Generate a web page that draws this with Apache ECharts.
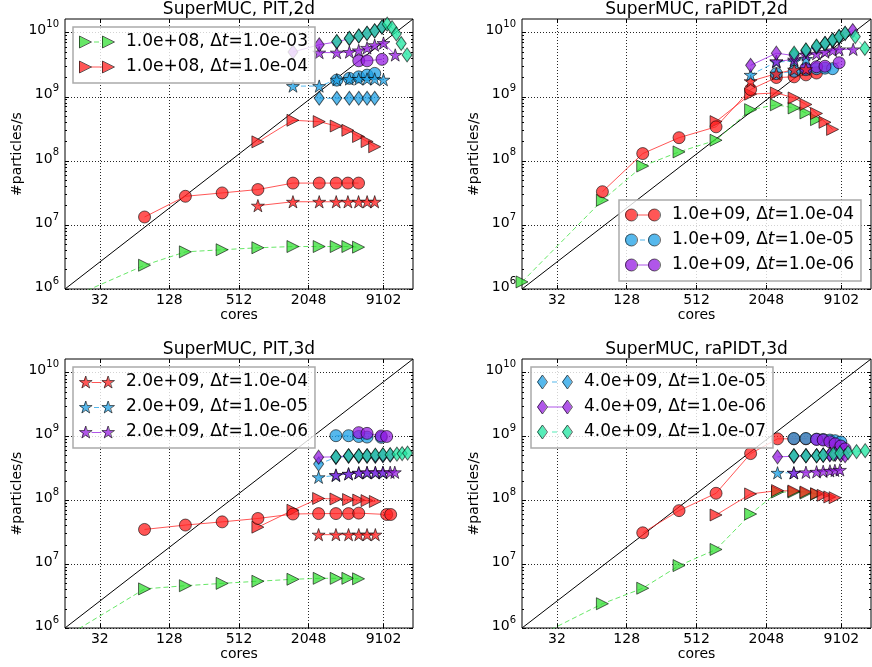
<!DOCTYPE html>
<html><head><meta charset="utf-8">
<script src="https://cdn.jsdelivr.net/npm/echarts@6/dist/echarts.min.js"></script>
<style>html,body{margin:0;padding:0;background:#fff}#c{width:872px;height:667px}</style>
</head><body><div id="c"></div><script>
// ---------------- data ----------------
const TITLES = ['SuperMUC, PIT,2d', 'SuperMUC, raPIDT,2d', 'SuperMUC, PIT,3d', 'SuperMUC, raPIDT,3d'];
const X_TICKS = [32, 128, 512, 2048, 9102];
const Y_TICKS = [1e6, 1e7, 1e8, 1e9, 1e10];
const X_RANGE = [16, 16384];
const Y_RANGE = [1e6, 1.6384e10];
const IDEAL_LINE = [[16, 1e6], [16384, 1.6384e10]];

const N_TRI_3 = '1.0e+08, Δt=1.0e-03';
const N_TRI_4 = '1.0e+08, Δt=1.0e-04';
const N_CIR_4 = '1.0e+09, Δt=1.0e-04';
const N_CIR_5 = '1.0e+09, Δt=1.0e-05';
const N_CIR_6 = '1.0e+09, Δt=1.0e-06';
const N_STA_4 = '2.0e+09, Δt=1.0e-04';
const N_STA_5 = '2.0e+09, Δt=1.0e-05';
const N_STA_6 = '2.0e+09, Δt=1.0e-06';
const N_DIA_5 = '4.0e+09, Δt=1.0e-05';
const N_DIA_6 = '4.0e+09, Δt=1.0e-06';
const N_DIA_7 = '4.0e+09, Δt=1.0e-07';

// [cores, particles/s]
const PIT2D_TRI_G = [[16,6.7e5],[78,2.35e6],[176,3.8e6],[366,4.1e6],[746,4.4e6],[1500,4.6e6],[2530,4.6e6],[3550,4.6e6],[4480,4.6e6],[5540,4.5e6]];
const PIT2D_TRI_R = [[746,1.98e8],[1500,4.3e8],[2530,4.1e8],[3550,3.5e8],[4480,3.0e8],[5540,2.4e8],[6570,2.0e8],[7640,1.66e8]];
const PIT2D_CIR_R = [[78,1.33e7],[176,2.8e7],[366,3.16e7],[746,3.57e7],[1500,4.5e7],[2530,4.5e7],[3550,4.5e7],[4480,4.5e7],[5540,4.5e7]];
const PIT2D_CIR_B = [[3590,1.82e9],[4610,1.94e9],[5560,2.05e9],[6560,2.18e9],[7640,2.32e9]];
const PIT2D_CIR_P = [[5560,3.65e9],[6560,3.65e9],[8840,3.84e9]];
const PIT2D_STA_R = [[746,2.0e7],[1500,2.3e7],[2530,2.3e7],[3550,2.3e7],[4480,2.3e7],[5540,2.3e7],[6570,2.3e7],[7640,2.3e7]];
const PIT2D_STA_B = [[1500,1.47e9],[2530,1.47e9],[3590,1.85e9],[4610,1.9e9],[5560,1.9e9],[6560,1.9e9],[7640,1.9e9],[9100,1.85e9]];
const PIT2D_STA_P = [[2530,4.9e9],[3590,4.9e9],[4610,5.0e9],[5560,5.3e9],[6560,5.8e9],[7640,6.4e9],[9100,6.9e9],[11500,4.5e9]];
const PIT2D_DIA_B = [[2530,9.5e8],[3590,9.5e8],[4610,9.5e8],[5560,9.5e8],[6560,9.5e8],[7640,9.5e8]];
const PIT2D_DIA_P = [[1500,5.0e9],[2530,6.5e9],[3590,7.2e9],[4610,8.1e9],[5560,8.9e9],[6560,9.8e9],[7640,1.07e10],[8840,1.22e10]];
const PIT2D_DIA_T = [[3590,7.3e9],[4610,8.2e9],[5560,8.9e9],[6560,9.8e9],[7640,1.07e10],[8840,1.23e10],[9800,1.36e10],[10800,1.2e10],[11750,9.6e9],[12950,6.8e9],[14560,4.5e9]];

const RAP2D_TRI_G = [[16,1.29e6],[79,2.43e7],[176,8.3e7],[362,1.38e8],[755,2.1e8],[1500,6.3e8],[2500,7.5e8],[3560,6.7e8],[4500,5.6e8],[5550,4.4e8]];
const RAP2D_TRI_R = [[755,4.1e8],[1500,1.1e9],[2500,1.15e9],[3560,9.6e8],[4500,7.6e8],[5550,5.5e8],[6570,4.0e8],[7640,3.1e8]];
const RAP2D_CIR_R = [[79,3.3e7],[176,1.3e8],[362,2.3e8],[755,3.4e8],[1500,1.3e9],[2500,2.0e9],[3560,2.05e9],[4500,2.2e9],[5550,2.35e9]];
const RAP2D_CIR_B = [[2500,2.3e9],[3560,2.5e9],[4500,2.65e9],[5550,2.75e9],[6570,2.8e9],[7640,2.75e9]];
const RAP2D_CIR_P = [[4500,2.8e9],[5550,2.95e9],[6570,3.0e9],[8700,3.4e9]];
const RAP2D_STA_R = [[1500,1.75e9],[2500,2.3e9],[3560,2.65e9],[4500,2.7e9]];
const RAP2D_STA_B = [[1500,2.2e9],[2500,3.5e9],[3560,3.6e9],[4500,3.9e9]];
const RAP2D_STA_P = [[2500,3.6e9],[3560,3.8e9],[4500,4.5e9],[5550,4.7e9],[6570,5.0e9],[7640,5.3e9],[8700,5.5e9],[11500,5.5e9]];
const RAP2D_DIA_B = [[3560,4.6e9],[4500,5.3e9],[5550,6.0e9],[6570,6.7e9],[7640,7.5e9],[8700,8.5e9]];
const RAP2D_DIA_P = [[1500,3.1e9],[2500,4.8e9],[3560,4.4e9],[4500,5.2e9],[5550,6.0e9],[6570,6.8e9],[7640,7.7e9],[8700,8.7e9],[9800,9.8e9],[11400,1.08e10]];
const RAP2D_DIA_T = [[3560,4.8e9],[4500,5.4e9],[5550,6.2e9],[6570,6.8e9],[7640,7.7e9],[8700,8.7e9],[9800,9.8e9],[12000,8.7e9],[14500,5.7e9]];

const PIT3D_TRI_G = [[16,7.2e5],[78,4.1e6],[176,4.6e6],[366,5.0e6],[746,5.4e6],[1500,5.8e6],[2530,6.0e6],[3550,6.0e6],[4480,6.0e6],[5540,5.9e6]];
const PIT3D_TRI_R = [[746,3.8e7],[1500,7.0e7],[2500,1.07e8],[3530,1.05e8],[4540,1.03e8],[5560,1.01e8],[6560,0.99e8],[7740,0.96e8]];
const PIT3D_CIR_R = [[78,3.5e7],[176,4.1e7],[366,4.6e7],[746,5.2e7],[1500,6.1e7],[2500,6.2e7],[3530,6.2e7],[4540,6.2e7],[5560,6.3e7],[9700,6.0e7],[10500,6.0e7]];
const PIT3D_CIR_B = [[3530,1.03e9],[4540,1.03e9],[5560,1.0e9],[6560,0.98e9],[8700,0.97e9]];
const PIT3D_CIR_P = [[5560,1.15e9],[6560,1.12e9],[8700,1.02e9],[9700,1.0e9]];
const PIT3D_STA_R = [[2500,2.9e7],[3530,2.9e7],[4540,2.9e7],[5560,2.9e7],[6560,2.9e7],[7740,2.9e7]];
const PIT3D_STA_B = [[2500,2.3e8],[3530,2.45e8],[4540,2.6e8],[5560,2.7e8],[6560,2.7e8],[7740,2.7e8],[9000,2.7e8]];
const PIT3D_STA_P = [[3530,2.5e8],[4540,2.6e8],[5560,2.7e8],[6560,2.75e8],[7740,2.75e8],[9000,2.75e8],[10400,2.75e8],[11400,2.75e8]];
const PIT3D_DIA_B = [[2500,3.7e8],[3530,4.7e8],[4540,4.9e8],[5560,4.9e8],[6560,4.9e8],[7740,4.9e8],[9000,5.0e8]];
const PIT3D_DIA_P = [[2500,4.75e8],[3530,4.8e8],[4540,5.0e8],[5560,5.0e8],[6560,5.0e8],[7740,5.0e8],[9000,5.1e8],[10400,5.1e8]];
const PIT3D_DIA_T = [[3530,4.8e8],[4540,5.0e8],[5560,5.0e8],[6560,5.0e8],[7740,5.1e8],[9000,5.2e8],[10400,5.2e8],[11900,5.3e8],[13200,5.4e8],[14700,5.5e8]];

const RAP3D_TRI_G = [[16,5.6e5],[79,2.4e6],[176,4.2e6],[362,9.5e6],[755,1.7e7],[1500,6.1e7],[2560,1.35e8],[3540,1.35e8],[4500,1.3e8],[5560,1.25e8]];
const RAP3D_TRI_R = [[755,5.9e7],[1500,1.26e8],[2560,1.42e8],[3540,1.4e8],[4500,1.35e8],[5560,1.27e8],[6340,1.2e8],[7230,1.13e8],[8030,1.1e8]];
const RAP3D_CIR_R = [[176,3.1e7],[362,6.9e7],[755,1.29e8],[1500,5.4e8],[2560,9.2e8],[3540,9.2e8],[4500,9.2e8]];
const RAP3D_CIR_B = [[3540,9.3e8],[4500,9.3e8],[5560,9.1e8],[6340,9.0e8],[7230,8.8e8],[8030,8.6e8],[9000,8.2e8]];
const RAP3D_CIR_P = [[5560,9.0e8],[6340,8.8e8],[7230,8.3e8],[8030,7.7e8],[9000,7.1e8],[9800,6.4e8]];
const RAP3D_STA_B = [[2560,2.7e8],[3540,2.7e8]];
const RAP3D_STA_P = [[3540,2.7e8],[4500,2.75e8],[5560,2.8e8],[6340,2.85e8],[7250,2.9e8],[8000,2.95e8],[8840,3.0e8]];
const RAP3D_DIA_B = [[3540,5.0e8],[4500,5.0e8],[5560,5.0e8],[6340,5.1e8],[7230,5.2e8],[8030,5.3e8]];
const RAP3D_DIA_P = [[2560,4.8e8],[3540,4.9e8],[4500,5.0e8],[5560,5.0e8],[6340,5.1e8],[7230,5.2e8],[8030,5.3e8],[9000,5.1e8],[9800,5.0e8]];
const RAP3D_DIA_T = [[3540,5.0e8],[4500,5.0e8],[5560,5.0e8],[6340,5.1e8],[7750,5.3e8],[8840,5.5e8],[10400,5.6e8],[12300,5.8e8],[14600,6.0e8]];

// ---------------- styling / layout ----------------
const COL_G = 'rgba(45,222,45,0.72)';
const COL_R = 'rgba(255,30,30,0.75)';
const COL_B = 'rgba(30,160,230,0.75)';
const COL_P = 'rgba(150,30,225,0.75)';
const COL_T = 'rgba(30,230,160,0.75)';
const EDGE = 'rgba(0,0,0,0.6)';

const STAR_BASE = [[100,0],[122.45,69.1],[195.1,69.1],[136.3,111.8],[158.8,180.9],[100,138.2],[41.2,180.9],[63.7,111.8],[4.9,69.1],[77.55,69.1]];
function starPath(x0, y0, s) {
  return STAR_BASE.map((p, i) => (i ? 'L' : 'M') + (x0 + (p[0] - 4.9) * s).toFixed(2) + ',' + (y0 + p[1] * s).toFixed(2)).join('') + 'Z';
}
const SYM = {
  tri: 'path://M0,0L10,5L0,10Z',
  cir: 'circle',
  sta: 'path://' + starPath(0, 0, 1),
  dia: 'diamond'
};
const SYM_SIZE = { tri: [12, 12], cir: 12, sta: [13, 13], dia: [10, 14] };

const DEFS = [
  { key: 'triG', name: N_TRI_3, shape: 'tri', color: COL_G, dash: true },
  { key: 'triR', name: N_TRI_4, shape: 'tri', color: COL_R, dash: false },
  { key: 'cirR', name: N_CIR_4, shape: 'cir', color: COL_R, dash: false },
  { key: 'cirB', name: N_CIR_5, shape: 'cir', color: COL_B, dash: true },
  { key: 'cirP', name: N_CIR_6, shape: 'cir', color: COL_P, dash: false },
  { key: 'staR', name: N_STA_4, shape: 'sta', color: COL_R, dash: false },
  { key: 'staB', name: N_STA_5, shape: 'sta', color: COL_B, dash: true },
  { key: 'staP', name: N_STA_6, shape: 'sta', color: COL_P, dash: false },
  { key: 'diaB', name: N_DIA_5, shape: 'dia', color: COL_B, dash: true },
  { key: 'diaP', name: N_DIA_6, shape: 'dia', color: COL_P, dash: false },
  { key: 'diaT', name: N_DIA_7, shape: 'dia', color: COL_T, dash: true }
];

const PANELS = [
  { data: { triG: PIT2D_TRI_G, triR: PIT2D_TRI_R, cirR: PIT2D_CIR_R, cirB: PIT2D_CIR_B, cirP: PIT2D_CIR_P, staR: PIT2D_STA_R, staB: PIT2D_STA_B, staP: PIT2D_STA_P, diaB: PIT2D_DIA_B, diaP: PIT2D_DIA_P, diaT: PIT2D_DIA_T },
    legend: ['triG', 'triR'], lpos: [73, 27], grid: { left: 65, top: 19, width: 348, height: 270 }, titleTop: 1 },
  { data: { triG: RAP2D_TRI_G, triR: RAP2D_TRI_R, cirR: RAP2D_CIR_R, cirB: RAP2D_CIR_B, cirP: RAP2D_CIR_P, staR: RAP2D_STA_R, staB: RAP2D_STA_B, staP: RAP2D_STA_P, diaB: RAP2D_DIA_B, diaP: RAP2D_DIA_P, diaT: RAP2D_DIA_T },
    legend: ['cirR', 'cirB', 'cirP'], lpos: [619, 200], grid: { left: 522, top: 19, width: 349, height: 270 }, titleTop: 1 },
  { data: { triG: PIT3D_TRI_G, triR: PIT3D_TRI_R, cirR: PIT3D_CIR_R, cirB: PIT3D_CIR_B, cirP: PIT3D_CIR_P, staR: PIT3D_STA_R, staB: PIT3D_STA_B, staP: PIT3D_STA_P, diaB: PIT3D_DIA_B, diaP: PIT3D_DIA_P, diaT: PIT3D_DIA_T },
    legend: ['staR', 'staB', 'staP'], lpos: [73, 367], grid: { left: 65, top: 359, width: 348, height: 269 }, titleTop: 341 },
  { data: { triG: RAP3D_TRI_G, triR: RAP3D_TRI_R, cirR: RAP3D_CIR_R, cirB: RAP3D_CIR_B, cirP: RAP3D_CIR_P, staB: RAP3D_STA_B, staP: RAP3D_STA_P, diaB: RAP3D_DIA_B, diaP: RAP3D_DIA_P, diaT: RAP3D_DIA_T },
    legend: ['diaB', 'diaP', 'diaT'], lpos: [531, 367], grid: { left: 522, top: 359, width: 349, height: 269 }, titleTop: 341 }
];

function legendIcon(shape, dash, withLine) {
  let p, mid, ls, le;
  if (shape === 'tri') { p = 'M0,0L12,6L0,12ZM23,0L35,6L23,12Z'; mid = 6; ls = 12; le = 23; }
  else if (shape === 'cir') { p = 'M0,6A6,6,0,1,1,12,6A6,6,0,1,1,0,6ZM23,6A6,6,0,1,1,35,6A6,6,0,1,1,23,6Z'; mid = 6; ls = 12; le = 23; }
  else if (shape === 'sta') { const s = 12 / 180.9; p = starPath(0, 0, s) + starPath(35 - 190.2 * s, 0, s); mid = 6.6; ls = 12.6; le = 22.4; }
  else { p = 'M5,0L10,7L5,14L0,7ZM30,0L35,7L30,14L25,7Z'; mid = 7; ls = 10; le = 25; }
  if (withLine) {
    let a = ls, b = le;
    if (dash) { const c = (ls + le) / 2; a = c - 2.5; b = c + 2.5; }
    p += 'M' + a + ',' + (mid - 0.5) + 'L' + b + ',' + (mid - 0.5) + 'L' + b + ',' + (mid + 0.5) + 'L' + a + ',' + (mid + 0.5) + 'Z';
  }
  return 'path://' + p;
}

const Y_MINOR = [];
for (let d = 6; d <= 10; d++) for (let k = 2; k <= 9; k++) { const v = k * Math.pow(10, d); if (v < Y_RANGE[1]) Y_MINOR.push(v); }

const dotted = { color: 'rgba(0,0,0,0.85)', width: 1, type: [1, 2] };
const option = {
  animation: false,
  textStyle: { fontFamily: 'DejaVu Sans', color: '#000' },
  title: [], grid: [], xAxis: [], yAxis: [], legend: [], series: []
};

PANELS.forEach((pn, i) => {
  const g = pn.grid;
  option.grid.push(Object.assign({ show: true, borderColor: '#000', borderWidth: 1, backgroundColor: 'transparent' }, g));
  option.title.push({ text: TITLES[i], left: g.left + g.width / 2, top: pn.titleTop, textAlign: 'center', padding: 0,
    textStyle: { fontSize: 17, fontWeight: 'normal', color: '#000', fontFamily: 'DejaVu Sans' } });
  const baseX = { gridIndex: i, type: 'log', logBase: 2, min: X_RANGE[0], max: X_RANGE[1], axisLine: { show: false } };
  option.xAxis.push(Object.assign({}, baseX, {
    position: 'bottom', name: 'cores', nameLocation: 'middle', nameGap: 17,
    nameTextStyle: { fontSize: 14, color: '#000', verticalAlign: 'top' },
    axisTick: { inside: true, length: 4, lineStyle: { color: '#000' }, customValues: X_TICKS },
    axisLabel: { customValues: X_TICKS, fontSize: 14, color: '#000', margin: 4, formatter: v => String(Math.round(v)) },
    splitLine: { show: true, lineStyle: dotted }
  }));
  option.xAxis.push(Object.assign({}, baseX, {
    position: 'top',
    axisTick: { inside: true, length: 4, lineStyle: { color: '#000' }, customValues: X_TICKS },
    axisLabel: { show: false }, splitLine: { show: false }
  }));
  const baseY = { gridIndex: i, type: 'log', logBase: 10, min: Y_RANGE[0], max: Y_RANGE[1], axisLine: { show: false } };
  option.yAxis.push(Object.assign({}, baseY, {
    position: 'left', name: '#particles/s', nameLocation: 'middle', nameGap: 40,
    nameTextStyle: { fontSize: 14, color: '#000' },
    axisTick: { inside: true, length: 4, lineStyle: { color: '#000' }, customValues: Y_TICKS },
    axisLabel: { customValues: Y_TICKS, margin: 6, color: '#000',
      formatter: v => '{b|10}{e|' + Math.round(Math.log10(v)) + '}',
      rich: { b: { fontSize: 14, lineHeight: 16, padding: [0, 0, 3, 0], verticalAlign: 'bottom' },
              e: { fontSize: 10, lineHeight: 10, padding: [0, 0, 11, 0], verticalAlign: 'bottom' } } },
    splitLine: { show: true, lineStyle: dotted }
  }));
  option.yAxis.push(Object.assign({}, baseY, {
    position: 'right',
    axisTick: { inside: true, length: 4, lineStyle: { color: '#000' }, customValues: Y_TICKS },
    axisLabel: { show: false }, splitLine: { show: false }
  }));
  ['left', 'right'].forEach(pos => option.yAxis.push(Object.assign({}, baseY, {
    position: pos,
    axisTick: { inside: true, length: 2, lineStyle: { color: '#000' }, customValues: Y_MINOR },
    axisLabel: { show: false }, splitLine: { show: false }
  })));

  // ideal line
  option.series.push({ type: 'line', xAxisIndex: 2 * i, yAxisIndex: 4 * i, data: IDEAL_LINE, symbol: 'none', silent: true,
    lineStyle: { color: '#000', width: 1 }, z: 1, emphasis: { disabled: true } });

  DEFS.forEach(d => {
    const data = pn.data[d.key];
    if (!data) return;
    option.series.push({
      type: 'line', name: d.name, xAxisIndex: 2 * i, yAxisIndex: 4 * i, data: data,
      symbol: SYM[d.shape], symbolSize: SYM_SIZE[d.shape], symbolKeepAspect: true, showAllSymbol: true,
      color: d.color,
      lineStyle: { color: d.color, width: 1, type: d.dash ? [5, 3] : 'solid' },
      itemStyle: { color: d.color, borderColor: EDGE, borderWidth: 1 },
      emphasis: { disabled: true }, silent: true, z: 2
    });
  });

  const isDia = pn.legend[0].indexOf('dia') === 0;
  const common = {
    orient: 'vertical', left: pn.lpos[0], top: pn.lpos[1], itemWidth: 35, itemHeight: isDia ? 14 : 12,
    itemGap: 7, padding: [6, 7, 7, 6], selectedMode: false,
    formatter: name => name.replace('Δt', 'Δ{i|t}')
  };
  const defsFor = pn.legend.map(k => DEFS.find(d => d.key === k));
  option.legend.push(Object.assign({}, common, {
    backgroundColor: 'rgba(255,255,255,0.8)', borderColor: '#aaa', borderWidth: 1.5, borderRadius: 0, z: 10,
    itemStyle: { borderWidth: 0 },
    textStyle: { fontSize: 17, lineHeight: 18, color: '#000', padding: [0, 0, 0, 7],
      rich: { i: { fontSize: 17, lineHeight: 18, fontStyle: 'italic', color: '#000' } } },
    data: defsFor.map(d => ({ name: d.name, icon: legendIcon(d.shape, d.dash, true) }))
  }));
  option.legend.push(Object.assign({}, common, {
    backgroundColor: 'transparent', borderWidth: 0, z: 11,
    itemStyle: { color: 'rgba(0,0,0,0)', borderColor: EDGE, borderWidth: 1 },
    textStyle: { fontSize: 17, lineHeight: 18, color: 'rgba(0,0,0,0)', padding: [0, 0, 0, 7],
      rich: { i: { fontSize: 17, lineHeight: 18, fontStyle: 'italic', color: 'rgba(0,0,0,0)' } } },
    data: defsFor.map(d => ({ name: d.name, icon: legendIcon(d.shape, d.dash, false) }))
  }));
});

const chart = echarts.init(document.getElementById('c'), null, { renderer: 'canvas' });
chart.setOption(option);
</script></body></html>
